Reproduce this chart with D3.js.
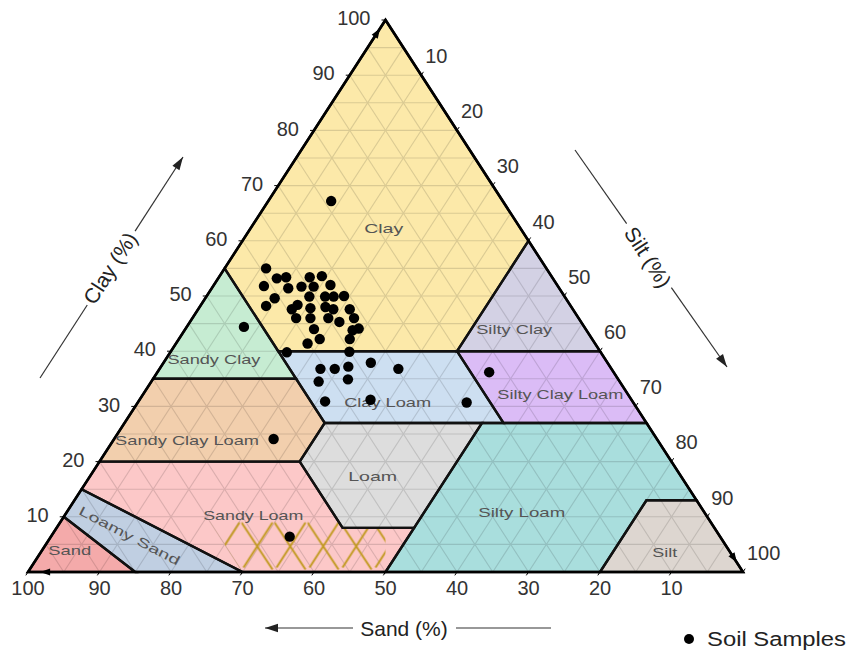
<!DOCTYPE html>
<html>
<head>
<meta charset="utf-8">
<script src="https://cdn.jsdelivr.net/npm/d3@7"></script>
<style>
  body { margin: 0; background: #fff; }
  text { font-family: "Liberation Sans", Arial, sans-serif; }
</style>
</head>
<body>
<svg id="chart" width="851" height="655"></svg>
<script>
// ---- Soil sample compositions (percent) ----
const sampleSand = [39.2,38.6,37.2,41.1,37.9,35.9,33.9,32.1,34.2,31.7,40.7,42.6,35.7,33.5,32.3,30.8,38.1,39.3,36.6,34.4,33.5,31.2,39.5,37.5,35.0,33.8,31.4,38.0,31.7,32.7,38.1,40.2,33.9,43.9,35.1,47.6,40.7,38.7,36.6,33.1,29.8,42.1,37.8,43.0,36.5,23.3,17.4,24.0,53.6,60.2];
const sampleSilt = [5.8,8.2,9.4,7.1,10.7,12.4,12.7,14.3,14.1,16.3,9.7,9.2,14.4,16.6,17.8,19.2,13.5,13.1,15.6,17.6,18.9,21.2,14.5,16.5,19.0,20.9,22.6,18.0,24.2,23.5,19.7,18.4,23.9,16.3,25.0,8.0,22.5,24.5,26.2,29.0,33.4,23.4,27.3,26.1,32.3,46.0,46.4,8.8,22.3,33.4];
const sampleClay = [55.0,53.2,53.4,51.8,51.4,51.7,53.4,53.6,51.7,52.0,49.6,48.2,49.9,49.9,49.9,50.0,48.4,47.6,47.8,48.0,47.6,47.6,46.0,46.0,46.0,45.3,46.0,44.0,44.1,43.8,42.2,41.4,42.2,39.8,39.9,44.4,36.8,36.8,37.2,37.9,36.8,34.5,34.9,30.9,31.2,30.7,36.2,67.2,24.1,6.4];

// ---- Texture classes: [sand, silt, clay] vertices ----
const classNames = ["Clay","Sandy Clay","Silty Clay","Sandy Clay Loam","Clay Loam","Silty Clay Loam","Loam","Silty Loam","Sandy Loam","Loamy Sand","Sand","Silt"];
const classFills = ["#fce9a9","#c6ecd2","#d3d1e4","#f2cfad","#cddff1","#dbbcf6","#dddddd","#a9dedd","#fcc8c8","#c0cfe2","#f4aaaa","#ddd6d0"];
const classVertices = [
  [[0,0,100],[45,0,55],[45,15,40],[20,40,40],[0,40,60]],
  [[45,0,55],[65,0,35],[45,20,35]],
  [[0,40,60],[20,40,40],[0,60,40]],
  [[65,0,35],[80,0,20],[52,28,20],[45,28,27],[45,20,35]],
  [[45,15,40],[45,20,35],[45,28,27],[23,50,27],[20,53,27],[20,40,40]],
  [[20,40,40],[20,53,27],[0,73,27],[0,60,40]],
  [[45,28,27],[23,50,27],[42,50,8],[52,40,8],[52,28,20]],
  [[23,50,27],[20,53,27],[0,73,27],[0,87,13],[7,80,13],[20,80,0],[50,50,0],[42,50,8]],
  [[80,0,20],[85,0,15],[70,30,0],[50,50,0],[42,50,8],[52,40,8],[52,28,20]],
  [[85,0,15],[90,0,10],[85,15,0],[70,30,0]],
  [[90,0,10],[100,0,0],[85,15,0]],
  [[0,87,13],[0,100,0],[20,80,0],[7,80,13]]
];
// label anchor compositions, label widths, rotation
const classLabelAt = [[19.1,18.6,62.3],[54.7,6.7,38.6],[10,46,44],[65.8,10.3,23.9],[34.3,34.9,30.8],[9.5,58.4,32.1],[43.1,39.5,17.4],[25.5,63.6,10.9],[63.4,26.4,10.2],[82.5,10.9,6.6],[92.2,3.9,3.9],[9.2,87.3,3.5]];
const classLabelWidth = [39,93,76,144,87,126,49,87,100,112,43,25];
const classLabelAngle = [0,0,0,0,0,0,0,0,0,27.5,0,0];

// hatched zone inside Sandy Loam
const hatchVertices = [[70,20.5,9.5],[52,38.5,9.5],[52,40,8],[46,46,8],[50,50,0],[70,30,0]];

const tickValues = [10,20,30,40,50,60,70,80,90,100];
const gridStep = 5;

// ---- Projection ----
const svg = d3.select("#chart");
const X = d3.scaleLinear().domain([0,100]).range([28,743]);
const Y = d3.scaleLinear().domain([0,100]).range([572,20]);
const project = d => [X(d[1] + d[2]/2), Y(d[2])];
const line = d3.line();
const polyPath = verts => line(verts.map(project)) + "Z";

const defs = svg.append("defs");

// ---- Filled classes with per-class tinted grid ----
const gridLines = [];
for (let v = gridStep; v < 100; v += gridStep) {
  gridLines.push([[100-v,0,v],[0,100-v,v]]);   // constant clay
  gridLines.push([[v,100-v,0],[v,0,100-v]]);   // constant sand
  gridLines.push([[100-v,v,0],[0,v,100-v]]);   // constant silt
}

classVertices.forEach((verts, i) => {
  defs.append("clipPath").attr("id", "cls" + i).append("path").attr("d", polyPath(verts));
  const g = svg.append("g");
  g.append("path").attr("d", polyPath(verts)).attr("fill", classFills[i]);
  g.append("g").attr("clip-path", `url(#cls${i})`)
    .selectAll("path").data(gridLines).join("path")
    .attr("d", d => line(d.map(project)))
    .attr("stroke", d3.color(classFills[i]).darker(0.4).formatHex())
    .attr("stroke-width", 1.1)
    .attr("fill", "none");
});

// ---- Hatch ----
const hatchOrigin = project(hatchVertices[0]);
const pat = defs.append("pattern").attr("id", "hatch")
  .attr("patternUnits", "userSpaceOnUse")
  .attr("x", hatchOrigin[0]).attr("y", hatchOrigin[1])
  .attr("width", 33).attr("height", Y(0) - hatchOrigin[1]);
pat.append("path").attr("d", "M0,3 L31,50 M31,3 L2,48")
  .attr("stroke", "#c29a22").attr("stroke-width", 2).attr("fill", "none");
svg.append("path").attr("d", polyPath(hatchVertices)).attr("fill", "url(#hatch)");

// ---- Class borders ----
svg.append("g").selectAll("path").data(classVertices).join("path")
  .attr("d", polyPath)
  .attr("fill", "none").attr("stroke", "#111").attr("stroke-width", 2.4)
  .attr("stroke-linejoin", "miter");

// outer triangle
svg.append("path").attr("d", polyPath([[100,0,0],[0,100,0],[0,0,100]]))
  .attr("fill", "none").attr("stroke", "#000").attr("stroke-width", 2.6);

// ---- Class labels ----
svg.append("g").selectAll("text").data(classNames).join("text")
  .attr("transform", (d, i) => {
    const p = project(classLabelAt[i]);
    return `translate(${p[0]},${p[1]}) rotate(${classLabelAngle[i]})`;
  })
  .attr("text-anchor", "middle").attr("dy", "0.36em")
  .attr("font-size", 13).attr("fill", "#555")
  .attr("textLength", (d, i) => classLabelWidth[i])
  .attr("lengthAdjust", "spacingAndGlyphs")
  .text(d => d);

// ---- Axes ----
const axisG = svg.append("g").attr("fill", "#333").attr("font-size", 20);
const tickG = svg.append("g").attr("stroke", "#000").attr("stroke-width", 1);
const u = [0.5436, -0.8393];

// Sand (bottom)
tickValues.forEach(v => {
  const p = project([v, 100 - v, 0]);
  tickG.append("line").attr("x1", p[0]).attr("y1", p[1]).attr("x2", p[0] - 4*u[0]).attr("y2", p[1] - 4*u[1]);
  axisG.append("text").attr("x", p[0]).attr("y", p[1] + 16).attr("dy", "0.36em")
    .attr("text-anchor", "middle").text(v);
});
// Clay (left)
tickValues.forEach(v => {
  const p = project([100 - v, 0, v]);
  tickG.append("line").attr("x1", p[0]).attr("y1", p[1]).attr("x2", p[0] - 4).attr("y2", p[1]);
  axisG.append("text").attr("x", p[0] - 15).attr("y", p[1] - 2).attr("dy", "0.36em")
    .attr("text-anchor", "end").text(v);
});
// Silt (right)
tickValues.forEach(v => {
  const p = project([0, v, 100 - v]);
  tickG.append("line").attr("x1", p[0]).attr("y1", p[1]).attr("x2", p[0] + 4*u[0]).attr("y2", p[1] + 4*u[1]);
  axisG.append("text").attr("x", p[0] + 4).attr("y", p[1] - 19.5).attr("dy", "0.36em")
    .attr("text-anchor", "start").text(v);
});

// small direction arrows on each edge near its vertex
function arrowHead(tip, from, len, half) {
  const dx = tip[0] - from[0], dy = tip[1] - from[1];
  const L = Math.hypot(dx, dy), ux = dx / L, uy = dy / L;
  const bx = tip[0] - ux * len, by = tip[1] - uy * len;
  return `M${tip[0]},${tip[1]}L${bx - uy*half},${by + ux*half}L${bx + uy*half},${by - ux*half}Z`;
}
const edgeArrows = [
  [[1.5,0,98.5],[20,0,80]],
  [[0,98.3,1.7],[0,80,20]],
  [[98.3,1.7,0],[80,20,0]]
];
svg.append("g").selectAll("path").data(edgeArrows).join("path")
  .attr("d", d => arrowHead(project(d[0]), project(d[1]), 10, 3.6))
  .attr("fill", "#000");

// ---- Axis titles with arrows ----
const titleG = svg.append("g");
function titleArrow(p0, p1, gapA, gapB, label, rot, tc) {
  const dx = p1[0] - p0[0], dy = p1[1] - p0[1];
  const L = Math.hypot(dx, dy);
  const at = t => [p0[0] + dx * t / L, p0[1] + dy * t / L];
  const a = at(gapA), b = at(gapB);
  titleG.append("line").attr("x1", p0[0]).attr("y1", p0[1]).attr("x2", a[0]).attr("y2", a[1])
    .attr("stroke", "#333").attr("stroke-width", 1.2);
  titleG.append("line").attr("x1", b[0]).attr("y1", b[1]).attr("x2", p1[0]).attr("y2", p1[1])
    .attr("stroke", "#333").attr("stroke-width", 1.2);
  titleG.append("path").attr("d", arrowHead(p1, p0, 13, 4.2)).attr("fill", "#222");
  titleG.append("text").attr("transform", `translate(${tc[0]},${tc[1]}) rotate(${rot})`)
    .attr("text-anchor", "middle").attr("dy", "0.36em")
    .attr("font-size", 21).attr("fill", "#222").text(label);
}
// clay title runs parallel to the left edge
titleArrow([40,378], [183,157], 87, 175, "Clay (%)", -57.1, [110,268]);
// silt title runs parallel to the right edge
titleArrow([575,150], [727,367], 90, 168, "Silt (%)", 57.1, [648,257]);
// sand title below the base
titleArrow([551,628], [265,628], 95, 198, "Sand (%)", 0, [404,628]);

// ---- Samples ----
const samples = sampleSand.map((s, i) => [s, sampleSilt[i], sampleClay[i]]);
svg.append("g").selectAll("circle").data(samples).join("circle")
  .attr("cx", d => project(d)[0]).attr("cy", d => project(d)[1])
  .attr("r", 5.2).attr("fill", "#000");

// ---- Legend ----
const lg = svg.append("g").attr("transform", "translate(689,639)");
lg.append("circle").attr("r", 5).attr("fill", "#000");
lg.append("text").attr("x", 18).attr("dy", "0.36em").attr("font-size", 20).attr("fill", "#222")
  .attr("textLength", 139).attr("lengthAdjust", "spacingAndGlyphs").text("Soil Samples");
</script>
</body>
</html>
